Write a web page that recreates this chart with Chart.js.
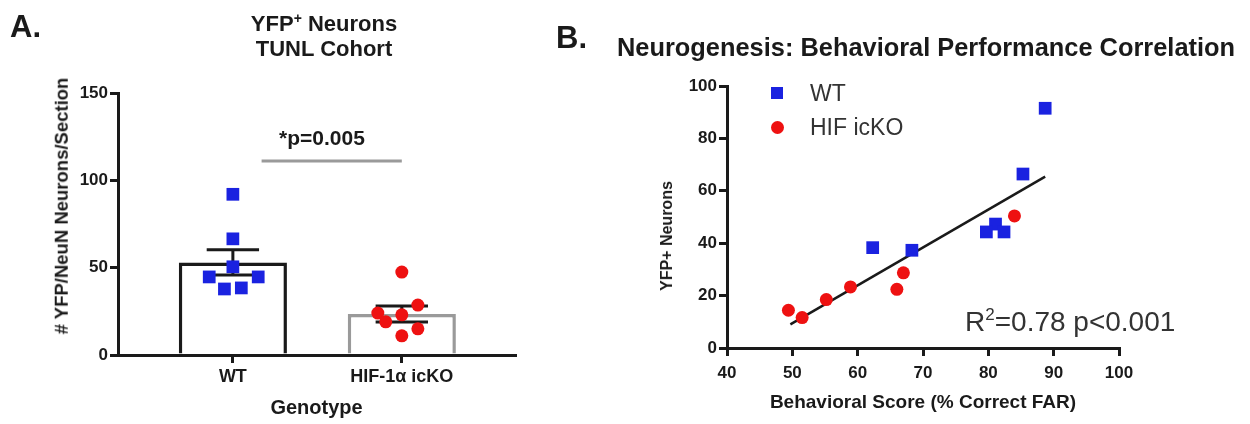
<!DOCTYPE html>
<html>
<head>
<meta charset="utf-8">
<script src="https://cdn.jsdelivr.net/npm/chart.js@4.4.1/dist/chart.umd.min.js"></script>
<style>
  body { margin: 0; background: #fff; }
  #wrap { position: relative; width: 1250px; height: 424px; overflow: hidden; font-family: 'Liberation Sans', Arial, sans-serif; color: #1a1a1a; }
  canvas { position: absolute; top: 0; }
  .txt { position: absolute; white-space: nowrap; line-height: 1; }
  .b { font-weight: bold; }
  .mk { position: absolute; }
  .vert { position: absolute; white-space: nowrap; line-height: 1; font-weight: bold; transform: translate(-50%, -50%) rotate(-90deg); }
</style>
</head>
<body>
<div id="wrap">
  <canvas id="chartA" width="540" height="424" style="left:0;width:540px;height:424px"></canvas>
  <canvas id="chartB" width="710" height="424" style="left:540px;width:710px;height:424px"></canvas>

  <div class="txt b" style="left:10px;top:11px;font-size:31px">A.</div>
  <div class="txt b" style="left:224px;top:11px;width:200px;text-align:center;font-size:22px">YFP<sup style="font-size:14px;vertical-align:8px">+</sup> Neurons</div>
  <div class="txt b" style="left:224px;top:38px;width:200px;text-align:center;font-size:22px">TUNL Cohort</div>
  <div class="txt b" style="left:222px;top:127px;width:200px;text-align:center;font-size:21px">*p=0.005</div>
  <div class="vert" style="left:62px;top:206px;font-size:18.5px"># YFP/NeuN Neurons/Section</div>

  <div class="txt b" style="left:556px;top:22px;font-size:31px">B.</div>
  <div class="txt b" style="left:617px;top:35px;font-size:25.4px">Neurogenesis: Behavioral Performance Correlation</div>
  <div class="vert" style="left:667px;top:236px;font-size:16px">YFP+ Neurons</div>

  <div class="mk" style="left:771px;top:87px;width:12px;height:12px;background:#1a22e0"></div>
  <div class="txt" style="left:810px;top:82px;font-size:23px;color:#333">WT</div>
  <div class="mk" style="left:771px;top:121px;width:13px;height:13px;border-radius:50%;background:#ee1111"></div>
  <div class="txt" style="left:810px;top:116px;font-size:23px;color:#333">HIF icKO</div>

  <div class="txt" style="left:965px;top:306px;font-size:28px;color:#333">R<sup style="font-size:17px;vertical-align:11px">2</sup>=0.78 p&lt;0.001</div>
</div>
<script>
// ---- panel A: YFP+ neurons per section, bars = mean, whiskers = SEM
const groups   = ['WT', 'HIF-1α icKO'];
const groupPos = [1, 2];
const barMeans = [53, 23.5];
const barSem   = [7.2, 4.6];

const wtDotX = [1, 1, 1, 0.86, 1.15, 0.95, 1.05];
const wtDotY = [92, 66.5, 50.5, 44.7, 44.7, 37.8, 38.4];
const koDotX = [2, 2.095, 1.858, 2, 1.905, 2.095, 2];
const koDotY = [47.5, 28.6, 24, 23, 19, 15, 11];

const sigLineX = [1.17, 2.0];
const sigLineY = 111;

const yTicksA = [0, 50, 100, 150];

// ---- panel B: behaviour vs neurons
const wtScore   = [88.7, 85.3, 81.1, 79.7, 82.4, 62.3, 68.3];
const wtNeurons = [91.5, 66.4, 47.3, 44.3, 44.3, 38.3, 37.3];
const koScore   = [84.0, 67.0, 66.0, 58.9, 55.2, 49.4, 51.5];
const koNeurons = [50.4, 28.7, 22.4, 23.3, 18.5, 14.4, 11.6];
const fitX = [49.7, 88.7];
const fitY = [9.0, 65.4];

const BLUE = '#1a22e0';
const RED  = '#ee1111';
const INK  = '#1a1a1a';

const zip = (xs, ys) => xs.map((x, i) => ({ x, y: ys[i] }));

function axisStyle() {
    return {
        border: { display: true, color: INK, width: 3 },
        grid: { drawOnChartArea: false, drawTicks: true, tickLength: 8, color: INK, lineWidth: 3, offset: false }
    };
}

// whiskers drawn right after the bars, so the dots still sit on top
const errorBars = {
    id: 'errorBars',
    afterDatasetDraw(chart, args) {
        if (args.index !== 3) return;
        const { ctx, scales: { x, y } } = chart;
        ctx.save();
        ctx.strokeStyle = INK;
        ctx.lineWidth = 3;
        groupPos.forEach((g, i) => {
            const px  = x.getPixelForValue(g);
            const top = y.getPixelForValue(barMeans[i] + barSem[i]);
            const bot = y.getPixelForValue(barMeans[i] - barSem[i]);
            const l = x.getPixelForValue(g - 0.155);
            const r = x.getPixelForValue(g + 0.155);
            ctx.beginPath();
            ctx.moveTo(px, top); ctx.lineTo(px, bot);
            ctx.moveTo(l, top);  ctx.lineTo(r, top);
            ctx.moveTo(l, bot);  ctx.lineTo(r, bot);
            ctx.stroke();
        });
        ctx.restore();
    }
};

const tickFont = { family: 'Liberation Sans', weight: 'bold', size: 17 };

new Chart(document.getElementById('chartA'), {
    type: 'bar',
    data: {
        datasets: [
            { type: 'line', data: zip(wtDotX, wtDotY), showLine: false, pointStyle: 'rect',
              pointRadius: 9, pointBackgroundColor: BLUE, pointBorderWidth: 0 },
            { type: 'line', data: zip(koDotX, koDotY), showLine: false, pointStyle: 'circle',
              pointRadius: 6.5, pointBackgroundColor: RED, pointBorderWidth: 0 },
            { type: 'line', data: zip(sigLineX, [sigLineY, sigLineY]), borderColor: '#9a9a9a',
              borderWidth: 3, pointRadius: 0 },
            { type: 'bar', data: zip(groupPos, barMeans), backgroundColor: '#fff',
              borderColor: [INK, '#9a9a9a'], borderWidth: 3.5,
              barPercentage: 0.64, categoryPercentage: 1 }
        ]
    },
    options: {
        responsive: false, animation: false,
        layout: { autoPadding: false, padding: { left: 50, top: 93, right: 25, bottom: 4 } },
        plugins: { legend: { display: false }, tooltip: { enabled: false } },
        scales: {
            x: {
                type: 'linear', min: 0.32, max: 2.67, offset: false, ...axisStyle(),
                afterBuildTicks: s => { s.ticks = groupPos.map(v => ({ value: v })); },
                afterFit: s => { s.height = 65; },
                ticks: { color: INK, padding: 3, font: { ...tickFont, size: 18 },
                         callback: v => groups[groupPos.indexOf(v)] },
                title: { display: true, text: 'Genotype', color: INK, padding: 0,
                         font: { family: 'Liberation Sans', weight: 'bold', size: 20 } }
            },
            y: {
                min: 0, max: 150, ...axisStyle(),
                afterBuildTicks: s => { s.ticks = yTicksA.map(v => ({ value: v })); },
                afterFit: s => { s.width = 68; },
                ticks: { color: INK, padding: 2, font: tickFont }
            }
        }
    },
    plugins: [errorBars]
});

new Chart(document.getElementById('chartB'), {
    type: 'scatter',
    data: {
        datasets: [
            { data: zip(wtScore, wtNeurons), pointStyle: 'rect', pointRadius: 9,
              pointBackgroundColor: BLUE, pointBorderWidth: 0 },
            { data: zip(koScore, koNeurons), pointStyle: 'circle', pointRadius: 6.5,
              pointBackgroundColor: RED, pointBorderWidth: 0 },
            { data: zip(fitX, fitY), showLine: true, borderColor: INK, borderWidth: 2.5, pointRadius: 0 }
        ]
    },
    options: {
        responsive: false, animation: false,
        layout: { autoPadding: false, padding: { left: 115, top: 86, right: 131, bottom: 10 } },
        plugins: { legend: { display: false }, tooltip: { enabled: false } },
        scales: {
            x: {
                type: 'linear', min: 40, max: 100, ...axisStyle(),
                afterFit: s => { s.height = 66; },
                ticks: { stepSize: 10, color: INK, padding: 7, font: tickFont },
                title: { display: true, text: 'Behavioral Score (% Correct FAR)', color: INK, padding: 0,
                         font: { family: 'Liberation Sans', weight: 'bold', size: 19 } }
            },
            y: {
                min: 0, max: 100, ...axisStyle(),
                afterFit: s => { s.width = 72; },
                ticks: { stepSize: 20, color: INK, padding: 2, font: tickFont }
            }
        }
    }
});
</script>
</body>
</html>
